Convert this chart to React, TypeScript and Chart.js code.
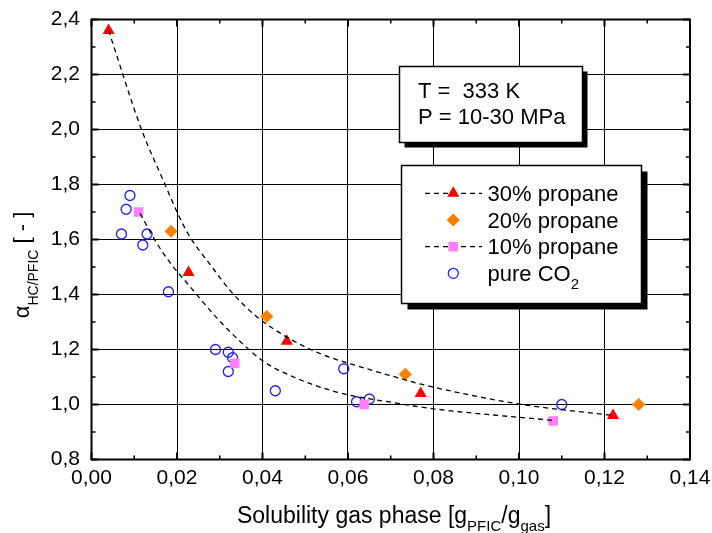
import React, { useEffect, useRef } from 'react';
import { Chart, registerables } from 'chart.js';
import { drawPoint } from 'chart.js/helpers';

Chart.register(...registerables);

const FONT = '"Liberation Sans", Arial, Helvetica, sans-serif';

// ---- data ----
const p30X = [0.004, 0.0227, 0.0457, 0.077, 0.122];
const p30Y = [2.36, 1.48, 1.23, 1.04, 0.96];

const p20X = [0.0186, 0.041, 0.0734, 0.128];
const p20Y = [1.63, 1.32, 1.11, 1.0];

const p10X = [0.011, 0.0335, 0.0638, 0.108];
const p10Y = [1.7, 1.15, 1.0, 0.94];

const co2X = [0.009, 0.0081, 0.007, 0.013, 0.012, 0.018, 0.029, 0.032, 0.033, 0.032, 0.043, 0.059, 0.062, 0.065, 0.11];
const co2Y = [1.76, 1.71, 1.62, 1.62, 1.58, 1.41, 1.2, 1.19, 1.17, 1.12, 1.05, 1.13, 1.01, 1.02, 1.0];

// dashed fit curves (traced points)
const fit30X = [0.004, 0.0117, 0.0172, 0.0203, 0.023, 0.0277, 0.0324, 0.0386, 0.0457, 0.0535, 0.0644, 0.0722, 0.0768, 0.0995, 0.1221];
const fit30Y = [2.36, 2.0, 1.8, 1.69, 1.61, 1.51, 1.415, 1.32, 1.245, 1.185, 1.13, 1.095, 1.075, 1.003, 0.96];

const fit10X = [0.01135, 0.0153, 0.0184, 0.0227, 0.0254, 0.0293, 0.0347, 0.0402, 0.0488, 0.0558, 0.0597, 0.0722, 0.0792, 0.108];
const fit10Y = [1.695, 1.586, 1.515, 1.435, 1.385, 1.315, 1.23, 1.157, 1.09, 1.052, 1.036, 1.003, 0.986, 0.942];

const xTickVals = [0, 0.02, 0.04, 0.06, 0.08, 0.1, 0.12, 0.14];
const xTickLabels = ['0,00', '0,02', '0,04', '0,06', '0,08', '0,10', '0,12', '0,14'];
const yTickVals = [0.8, 1.0, 1.2, 1.4, 1.6, 1.8, 2.0, 2.2, 2.4];
const yTickLabels = ['0,8', '1,0', '1,2', '1,4', '1,6', '1,8', '2,0', '2,2', '2,4'];
const xMinorStep = 0.01;
const yMinorStep = 0.1;

const legendLabels = ['30% propane', '20% propane', '10% propane', 'pure CO'];
const infoLines = ['T =  333 K', 'P = 10-30 MPa'];

const pts = (xs: number[], ys: number[]) => xs.map((x, i) => ({ x, y: ys[i] }));

type Part = { t: string; sub?: boolean };
function drawParts(ctx: CanvasRenderingContext2D, parts: Part[], x: number, y: number, center: boolean, main: string, sub: string, subDy: number) {
  let total = 0;
  for (const p of parts) {
    ctx.font = p.sub ? sub : main;
    total += ctx.measureText(p.t).width;
  }
  let cx = center ? x - total / 2 : x;
  ctx.textAlign = 'left';
  ctx.textBaseline = 'alphabetic';
  for (const p of parts) {
    ctx.font = p.sub ? sub : main;
    ctx.fillText(p.t, cx, y + (p.sub ? subDy : 0));
    cx += ctx.measureText(p.t).width;
  }
}

function shadowBox(ctx: CanvasRenderingContext2D, x: number, y: number, w: number, h: number, off: number) {
  ctx.fillStyle = '#000';
  ctx.fillRect(x + off, y + off, w, h);
  ctx.fillStyle = '#fff';
  ctx.fillRect(x, y, w, h);
  ctx.strokeStyle = '#000';
  ctx.lineWidth = 1.5;
  ctx.strokeRect(x, y, w, h);
}

const decor = {
  id: 'decor',
  afterDraw(chart: any) {
    const { ctx, chartArea: a, scales } = chart;
    const xs = scales.x;
    const ys = scales.y;
    ctx.save();
    ctx.strokeStyle = '#000';
    // inward ticks on all four sides
    const nx = Math.round((xs.max - xs.min) / xMinorStep);
    for (let i = 0; i <= nx; i++) {
      const px = xs.getPixelForValue(xs.min + i * xMinorStep);
      const major = i % 2 === 0;
      const len = major ? 7 : 4;
      ctx.lineWidth = major ? 2 : 1.5;
      ctx.beginPath();
      ctx.moveTo(px, a.bottom); ctx.lineTo(px, a.bottom - len);
      ctx.moveTo(px, a.top); ctx.lineTo(px, a.top + len);
      ctx.stroke();
    }
    const ny = Math.round((ys.max - ys.min) / yMinorStep);
    for (let i = 0; i <= ny; i++) {
      const py = ys.getPixelForValue(ys.min + i * yMinorStep);
      const major = i % 2 === 0;
      const len = major ? 7 : 4;
      ctx.lineWidth = major ? 2 : 1.5;
      ctx.beginPath();
      ctx.moveTo(a.left, py); ctx.lineTo(a.left + len, py);
      ctx.moveTo(a.right, py); ctx.lineTo(a.right - len, py);
      ctx.stroke();
    }
    // frame
    ctx.lineWidth = 2;
    ctx.strokeRect(a.left, a.top, a.right - a.left, a.bottom - a.top);

    // info box
    shadowBox(ctx, 399.5, 66.5, 183, 76, 5);
    ctx.fillStyle = '#000';
    ctx.font = `22px ${FONT}`;
    ctx.textAlign = 'left';
    ctx.textBaseline = 'alphabetic';
    ctx.fillText(infoLines[0], 418, 97.5);
    ctx.fillText(infoLines[1], 418, 123.5);

    // legend
    shadowBox(ctx, 401.5, 165.5, 240, 138, 6);
    const rowY = [193.3, 220, 246.7, 273.3];
    const symX = 453.3;
    const ds = chart.data.datasets.slice(2);
    ctx.strokeStyle = '#000';
    ctx.lineWidth = 1.3;
    ctx.setLineDash([5, 4]);
    for (const r of [0, 2]) {
      ctx.beginPath();
      ctx.moveTo(425, rowY[r]);
      ctx.lineTo(482, rowY[r]);
      ctx.stroke();
    }
    ctx.setLineDash([]);
    ds.forEach((d: any, i: number) => {
      ctx.fillStyle = d.backgroundColor;
      ctx.strokeStyle = d.borderColor;
      ctx.lineWidth = d.borderWidth || 0;
      drawPoint(ctx, { pointStyle: d.pointStyle, radius: d.pointRadius, rotation: 0, borderWidth: d.borderWidth || 0 }, symX, rowY[i]);
    });
    ctx.fillStyle = '#000';
    for (let i = 0; i < 3; i++) {
      drawParts(ctx, [{ t: legendLabels[i] }], 487.5, rowY[i] + 7.5, false, `22px ${FONT}`, `15px ${FONT}`, 8);
    }
    drawParts(ctx, [{ t: legendLabels[3] }, { t: '2', sub: true }], 487.5, rowY[3] + 7.5, false, `22px ${FONT}`, `15px ${FONT}`, 8);

    // x axis title
    ctx.fillStyle = '#000';
    drawParts(
      ctx,
      [{ t: 'Solubility gas phase [g' }, { t: 'PFIC', sub: true }, { t: '/g' }, { t: 'gas', sub: true }, { t: ']' }],
      394, 522.5, true, `23px ${FONT}`, `15px ${FONT}`, 8
    );

    // y axis title
    ctx.save();
    ctx.translate(28.5, 265);
    ctx.rotate(-Math.PI / 2);
    drawParts(
      ctx,
      [{ t: 'α' }, { t: 'HC/PFIC', sub: true }, { t: ' [ - ]' }],
      0, 0, true, `22px ${FONT}`, `14px ${FONT}`, 9
    );
    ctx.restore();
    ctx.restore();
  },
};

export default function App() {
  const ref = useRef<HTMLCanvasElement>(null);
  useEffect(() => {
    const canvas = ref.current!;
    const chart = new Chart(canvas, {
      type: 'scatter',
      data: {
        datasets: [
          {
            label: 'fit 30%', data: pts(fit30X, fit30Y), showLine: true, borderColor: '#000', borderWidth: 1.3,
            borderDash: [5, 4], pointRadius: 0, cubicInterpolationMode: 'monotone', fill: false, backgroundColor: '#000',
          } as any,
          {
            label: 'fit 10%', data: pts(fit10X, fit10Y), showLine: true, borderColor: '#000', borderWidth: 1.3,
            borderDash: [5, 4], pointRadius: 0, cubicInterpolationMode: 'monotone', fill: false, backgroundColor: '#000',
          } as any,
          {
            label: legendLabels[0], data: pts(p30X, p30Y), pointStyle: 'triangle', pointRadius: 7,
            backgroundColor: '#ff0000', borderColor: '#ff0000', borderWidth: 0,
          },
          {
            label: legendLabels[1], data: pts(p20X, p20Y), pointStyle: 'rectRot', pointRadius: 6.6,
            backgroundColor: '#ff8000', borderColor: '#ff8000', borderWidth: 0,
          },
          {
            label: legendLabels[2], data: pts(p10X, p10Y), pointStyle: 'rect', pointRadius: 6.8,
            backgroundColor: '#ff80ff', borderColor: '#ff80ff', borderWidth: 0,
          },
          {
            label: legendLabels[3] + '2', data: pts(co2X, co2Y), pointStyle: 'circle', pointRadius: 5,
            backgroundColor: 'rgba(255,255,255,0)', borderColor: '#1f1fff', borderWidth: 1.3,
          },
        ],
      },
      options: {
        animation: false,
        responsive: false,
        devicePixelRatio: 1,
        layout: { padding: { top: 19.5, right: 22, left: 0, bottom: 0 } },
        plugins: { legend: { display: false }, tooltip: { enabled: false }, title: { display: false } },
        scales: {
          x: {
            type: 'linear', min: 0, max: 0.14,
            afterBuildTicks: (s: any) => { s.ticks = xTickVals.map((v) => ({ value: v })); },
            afterFit: (s: any) => { s.height = 533 - 459.5; s.paddingLeft = 0; s.paddingRight = 0; },
            ticks: {
              color: '#000', font: { family: FONT, size: 21 }, padding: 6, maxRotation: 0, autoSkip: false,
              callback: (_v: any, i: number) => xTickLabels[i],
            },
            grid: { color: '#000', lineWidth: 1, drawTicks: false },
            border: { display: false },
          },
          y: {
            type: 'linear', min: 0.8, max: 2.4,
            afterBuildTicks: (s: any) => { s.ticks = yTickVals.map((v) => ({ value: v })); },
            afterFit: (s: any) => { s.width = 91.5; s.paddingTop = 0; s.paddingBottom = 0; },
            ticks: {
              color: '#000', font: { family: FONT, size: 21 }, padding: 11.5, autoSkip: false,
              callback: (_v: any, i: number) => yTickLabels[i],
            },
            grid: { color: '#000', lineWidth: 1, drawTicks: false },
            border: { display: false },
          },
        },
      },
      plugins: [decor],
    });
    return () => chart.destroy();
  }, []);
  return (
    <div style={{ position: 'fixed', left: 0, top: 0, width: 712, height: 533, background: '#fff' }}>
      <canvas ref={ref} width={712} height={533} style={{ display: 'block', width: 712, height: 533 }} />
    </div>
  );
}
